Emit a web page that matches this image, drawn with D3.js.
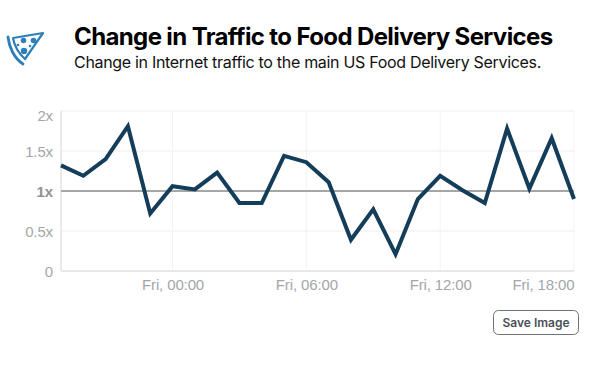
<!DOCTYPE html>
<html>
<head>
<meta charset="utf-8">
<script src="https://cdn.jsdelivr.net/npm/d3@7"></script>
<style>
    html, body { margin: 0; background: #fff; }
    svg { display: block; font-family: Inter, sans-serif; }
    .title { font-size: 24px; font-weight: 700; fill: #000; letter-spacing: -0.62px; }
    .subtitle { font-size: 16px; fill: #111; letter-spacing: -0.31px; }
    .axis text { font-size: 15px; fill: #a3a6a9; letter-spacing: -0.13px; }
    .axis path, .axis line { display: none; }
</style>
</head>
<body>
<svg id="chart" width="599" height="372"></svg>
<script>
const titleText = 'Change in Traffic to Food Delivery Services'
const subtitleText = 'Change in Internet traffic to the main US Food Delivery Services.'
const buttonText = 'Save Image'

const hours = [
    '2020-03-19T19:00', '2020-03-19T20:00', '2020-03-19T21:00', '2020-03-19T22:00',
    '2020-03-19T23:00', '2020-03-20T00:00', '2020-03-20T01:00', '2020-03-20T02:00',
    '2020-03-20T03:00', '2020-03-20T04:00', '2020-03-20T05:00', '2020-03-20T06:00',
    '2020-03-20T07:00', '2020-03-20T08:00', '2020-03-20T09:00', '2020-03-20T10:00',
    '2020-03-20T11:00', '2020-03-20T12:00', '2020-03-20T13:00', '2020-03-20T14:00',
    '2020-03-20T15:00', '2020-03-20T16:00', '2020-03-20T17:00', '2020-03-20T18:00'
].map(d => new Date(d))
const traffic = [
    1.32, 1.19, 1.40, 1.81, 0.72, 1.06, 1.02, 1.23, 0.85, 0.85, 1.44, 1.36,
    1.11, 0.39, 0.77, 0.21, 0.90, 1.19, 1.01, 0.85, 1.78, 1.03, 1.66, 0.90
]
const yTicks = [0, 0.5, 1, 1.5, 2]
const xTicks = ['2020-03-20T00:00', '2020-03-20T06:00', '2020-03-20T12:00', '2020-03-20T18:00'].map(d => new Date(d))

const svg = d3.select('#chart')
const leftX = 61, rightX = 574, topY = 111, bottomY = 271

const scaleDate = d3.scaleTime().domain(d3.extent(hours)).range([leftX, rightX])
const scaleRate = d3.scaleLinear().domain([0, 2]).range([bottomY, topY])

// header
const logo = svg.append('g').attr('fill', 'none').attr('stroke', '#2f7fb8')
logo.append('path')
    .attr('d', 'M13 38 L43 33 L25 59 Q15 50 13 38 Z')
    .attr('stroke-width', 2.2)
    .attr('stroke-linejoin', 'round')
logo.append('path')
    .attr('d', 'M8 37 C9 47 14 58 23 64')
    .attr('stroke-width', 2.8)
    .attr('stroke-linecap', 'round')
logo.selectAll('circle')
    .data([[23.5, 40.5, 2.8], [33.5, 40.5, 2.8], [24, 51, 3.2], [30, 46, 1.3], [18, 45, 1.3]])
    .join('circle')
    .attr('cx', d => d[0])
    .attr('cy', d => d[1])
    .attr('r', d => d[2])
    .attr('fill', '#2f7fb8')
    .attr('stroke', 'none')

svg.append('text').attr('class', 'title').attr('x', 74).attr('y', 44.5).text(titleText)
svg.append('text').attr('class', 'subtitle').attr('x', 74).attr('y', 67.5).text(subtitleText)

// grid
svg.append('g').selectAll('line')
    .data(yTicks.filter(d => d !== 0 && d !== 1))
    .join('line')
    .attr('x1', leftX).attr('x2', rightX)
    .attr('y1', d => scaleRate(d)).attr('y2', d => scaleRate(d))
    .attr('stroke', '#f6f6f6').attr('stroke-width', 2)
svg.append('g').selectAll('line')
    .data(xTicks)
    .join('line')
    .attr('x1', d => scaleDate(d)).attr('x2', d => scaleDate(d))
    .attr('y1', topY).attr('y2', bottomY)
    .attr('stroke', '#f3f3f3').attr('stroke-width', 1)

// axis lines
svg.append('line')
    .attr('x1', leftX).attr('x2', leftX)
    .attr('y1', topY).attr('y2', bottomY)
    .attr('stroke', '#eaeaea').attr('stroke-width', 2)
svg.append('line')
    .attr('x1', leftX).attr('x2', rightX)
    .attr('y1', bottomY).attr('y2', bottomY)
    .attr('stroke', '#e8e8e8').attr('stroke-width', 2)

// axes
const axisRate = svg.append('g')
    .attr('class', 'axis')
    .attr('transform', `translate(${leftX}, 0)`)
    .call(d3.axisLeft(scaleRate)
        .tickValues(yTicks)
        .tickSize(0)
        .tickPadding(8)
        .tickFormat(d => d === 0 ? '0' : `${d}x`))
// top label is pushed down so it stays inside the plot height
axisRate.selectAll('.tick text')
    .attr('dy', d => d === 2 ? '0.62em' : '0.36em')
    .style('font-weight', d => d === 1 ? 600 : 400)
    .style('fill', d => d === 1 ? '#8f9295' : null)

const axisDate = svg.append('g')
    .attr('class', 'axis')
    .attr('transform', `translate(0, ${bottomY})`)
    .call(d3.axisBottom(scaleDate)
        .tickValues(xTicks)
        .tickSize(0)
        .tickPadding(8)
        .tickFormat(d3.timeFormat('%a, %H:%M')))
axisDate.selectAll('.tick text')
    .style('text-anchor', (d, i) => i === xTicks.length - 1 ? 'end' : 'middle')

// 1x reference line, over the grid and under the series
svg.append('line')
    .attr('x1', leftX).attr('x2', rightX)
    .attr('y1', scaleRate(1)).attr('y2', scaleRate(1))
    .attr('stroke', '#a5a7a7').attr('stroke-width', 2)

const lineFn = d3.line()
    .x((d, i) => scaleDate(hours[i]))
    .y(d => scaleRate(d))
svg.append('path')
    .datum(traffic)
    .attr('d', lineFn)
    .attr('fill', 'none')
    .attr('stroke', '#143d59')
    .attr('stroke-width', 4)
    .attr('stroke-linejoin', 'miter')

// button
svg.append('rect')
    .attr('x', 493.5).attr('y', 310.5)
    .attr('width', 85).attr('height', 24)
    .attr('rx', 5)
    .attr('fill', '#fff')
    .attr('stroke', '#6c7378')
svg.append('text')
    .attr('x', 536).attr('y', 327)
    .attr('text-anchor', 'middle')
    .style('font-size', '12px')
    .style('font-weight', 600)
    .style('fill', '#4a5056')
    .text(buttonText)
</script>
</body>
</html>
